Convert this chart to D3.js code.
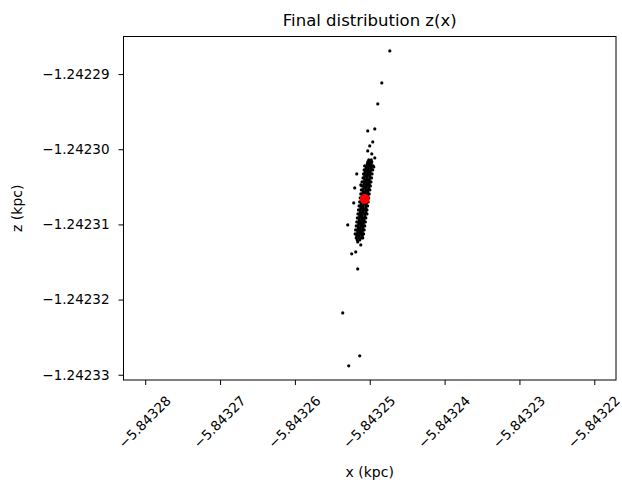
<!DOCTYPE html>
<html>
<head>
<meta charset="utf-8">
<script src="https://cdn.jsdelivr.net/npm/d3@7"></script>
<style>
    body { margin: 0; background: #fff; }
    svg { font-family: "DejaVu Sans", sans-serif; }
</style>
</head>
<body>
<svg id="chart"></svg>
<script>
// final particle positions (kpc)
let xValues = [
    -5.84324732, -5.84324839, -5.84324893, -5.84324933, -5.84325027, -5.84324960, -5.84325000, -5.84325027,
    -5.84324973, -5.84324933, -5.84324987, -5.84325174, -5.84325120, -5.84325201, -5.84325214, -5.84325294,
    -5.84325120, -5.84325187, -5.84325241, -5.84325161, -5.84325361, -5.84325134, -5.84325281, -5.84324946,
    -5.84325094,
    -5.84325013, -5.84324980,
    -5.84325027, -5.84325000, -5.84324973,
    -5.84325033, -5.84325007, -5.84324980,
    -5.84325040, -5.84325013, -5.84324987,
    -5.84325047, -5.84325013, -5.84324980,
    -5.84325054, -5.84325020, -5.84324987,
    -5.84325060, -5.84325027, -5.84324993,
    -5.84325054, -5.84325027, -5.84324993,
    -5.84325067, -5.84325033, -5.84325000,
    -5.84325074, -5.84325040, -5.84325000,
    -5.84325067, -5.84325033, -5.84325007,
    -5.84325080, -5.84325047, -5.84325013,
    -5.84325074, -5.84325040, -5.84325007,
    -5.84325087, -5.84325054, -5.84325020,
    -5.84325080, -5.84325047, -5.84325013,
    -5.84325094, -5.84325054, -5.84325020,
    -5.84325087, -5.84325060, -5.84325027,
    -5.84325100, -5.84325067, -5.84325033,
    -5.84325100, -5.84325060, -5.84325027,
    -5.84325107, -5.84325074, -5.84325033,
    -5.84325107, -5.84325067, -5.84325040,
    -5.84325114, -5.84325080, -5.84325040,
    -5.84325114, -5.84325074, -5.84325047,
    -5.84325120, -5.84325087, -5.84325047,
    -5.84325120, -5.84325087, -5.84325054,
    -5.84325127, -5.84325094, -5.84325060,
    -5.84325127, -5.84325094, -5.84325054,
    -5.84325134, -5.84325100, -5.84325067,
    -5.84325134, -5.84325107, -5.84325067,
    -5.84325140, -5.84325107, -5.84325074,
    -5.84325140, -5.84325107, -5.84325080,
    -5.84325147, -5.84325114, -5.84325080,
    -5.84325147, -5.84325114, -5.84325087,
    -5.84325154, -5.84325120, -5.84325087,
    -5.84325154, -5.84325127, -5.84325094,
    -5.84325161, -5.84325127, -5.84325094,
    -5.84325161, -5.84325134, -5.84325100,
    -5.84325167, -5.84325134, -5.84325107,
    -5.84325174, -5.84325140, -5.84325100,
    -5.84325181, -5.84325147, -5.84325114,
    -5.84325167, -5.84325134,
    -5.84325161,
    // band edges
    -5.84325068, -5.84324955, -5.84325075, -5.84324961, -5.84325083, -5.84324969,
    -5.84325090, -5.84324976, -5.84325104, -5.84324984, -5.84325106, -5.84324992,
    -5.84325112, -5.84324999, -5.84325120, -5.84325007, -5.84325128, -5.84325015,
    -5.84325135, -5.84325021, -5.84325143, -5.84325029, -5.84325151, -5.84325037,
    -5.84325158, -5.84325037, -5.84325166, -5.84325052, -5.84325173, -5.84325059,
    -5.84325181, -5.84325067, -5.84325189, -5.84325075, -5.84325195, -5.84325082
];
let zValues = [
    -1.24228692, -1.24229118, -1.24229397, -1.24229730, -1.24229756, -1.24229903, -1.24229956, -1.24230022,
    -1.24230062, -1.24230116, -1.24230182, -1.24230328, -1.24230475, -1.24230515, -1.24230714, -1.24231007,
    -1.24231273, -1.24231366, -1.24231392, -1.24231592, -1.24232177, -1.24232749, -1.24232882, -1.24230235,
    -1.24231180,
    -1.24230142, -1.24230142,
    -1.24230169, -1.24230169, -1.24230169,
    -1.24230195, -1.24230195, -1.24230195,
    -1.24230222, -1.24230222, -1.24230222,
    -1.24230249, -1.24230249, -1.24230249,
    -1.24230275, -1.24230275, -1.24230275,
    -1.24230302, -1.24230302, -1.24230302,
    -1.24230328, -1.24230328, -1.24230328,
    -1.24230355, -1.24230355, -1.24230355,
    -1.24230382, -1.24230382, -1.24230382,
    -1.24230408, -1.24230408, -1.24230408,
    -1.24230435, -1.24230435, -1.24230435,
    -1.24230461, -1.24230461, -1.24230461,
    -1.24230488, -1.24230488, -1.24230488,
    -1.24230515, -1.24230515, -1.24230515,
    -1.24230541, -1.24230541, -1.24230541,
    -1.24230568, -1.24230568, -1.24230568,
    -1.24230594, -1.24230594, -1.24230594,
    -1.24230621, -1.24230621, -1.24230621,
    -1.24230648, -1.24230648, -1.24230648,
    -1.24230674, -1.24230674, -1.24230674,
    -1.24230701, -1.24230701, -1.24230701,
    -1.24230727, -1.24230727, -1.24230727,
    -1.24230754, -1.24230754, -1.24230754,
    -1.24230781, -1.24230781, -1.24230781,
    -1.24230807, -1.24230807, -1.24230807,
    -1.24230834, -1.24230834, -1.24230834,
    -1.24230860, -1.24230860, -1.24230860,
    -1.24230887, -1.24230887, -1.24230887,
    -1.24230914, -1.24230914, -1.24230914,
    -1.24230940, -1.24230940, -1.24230940,
    -1.24230967, -1.24230967, -1.24230967,
    -1.24230993, -1.24230993, -1.24230993,
    -1.24231020, -1.24231020, -1.24231020,
    -1.24231047, -1.24231047, -1.24231047,
    -1.24231073, -1.24231073, -1.24231073,
    -1.24231100, -1.24231100, -1.24231100,
    -1.24231126, -1.24231126, -1.24231126,
    -1.24231153, -1.24231153, -1.24231153,
    -1.24231180, -1.24231180, -1.24231180,
    -1.24231206, -1.24231206,
    -1.24231233,
    // band edges
    -1.24230222, -1.24230222, -1.24230275, -1.24230275, -1.24230328, -1.24230328,
    -1.24230382, -1.24230382, -1.24230435, -1.24230435, -1.24230488, -1.24230488,
    -1.24230541, -1.24230541, -1.24230594, -1.24230594, -1.24230648, -1.24230648,
    -1.24230701, -1.24230701, -1.24230754, -1.24230754, -1.24230807, -1.24230807,
    -1.24230860, -1.24230860, -1.24230914, -1.24230914, -1.24230967, -1.24230967,
    -1.24231020, -1.24231020, -1.24231073, -1.24231073, -1.24231126, -1.24231126
];
// mean position (red marker)
let centerX = [-5.84325067];
let centerZ = [-1.24230661];

let xTicks = [-5.84328, -5.84327, -5.84326, -5.84325, -5.84324, -5.84323, -5.84322];
let zTicks = [-1.24229, -1.24230, -1.24231, -1.24232, -1.24233];
let xDomain = [-5.8432829, -5.8432171];
let zDomain = [-1.2423307, -1.2422850];

let width = 622, height = 482;
let margin = { top: 36.5, right: 6, bottom: 102, left: 123.5 };

let svg = d3.select('#chart').attr('width', width).attr('height', height);

let x = d3.scaleLinear().domain(xDomain).range([margin.left, width - margin.right]);
let y = d3.scaleLinear().domain(zDomain).range([height - margin.bottom, margin.top]);
let fmt = d3.format('.5f');

let points = xValues.map((d, i) => ({ x: x(d), y: y(zValues[i]) }));

// X axis
let xAxis = svg.append('g')
    .attr('transform', `translate(0, ${height - margin.bottom})`)
    .call(d3.axisBottom(x).tickValues(xTicks).tickFormat(fmt).tickSize(5).tickSizeOuter(0));
xAxis.selectAll('text')
    .attr('y', 0).attr('dy', '0.35em')
    .attr('text-anchor', 'middle')
    .attr('transform', 'translate(-1, 42) rotate(-45)');

// Y axis
let yAxis = svg.append('g')
    .attr('transform', `translate(${margin.left}, 0)`)
    .call(d3.axisLeft(y).tickValues(zTicks).tickFormat(fmt).tickSize(5).tickSizeOuter(0));
yAxis.selectAll('text').attr('x', -14);

svg.selectAll('.tick text').style('font-size', '13.5px').style('fill', '#000').style('font-family', '"DejaVu Sans", sans-serif');
svg.selectAll('.tick line').style('stroke', '#000').style('stroke-width', 1);
svg.selectAll('.domain').remove();

// frame
svg.append('rect')
    .attr('x', margin.left).attr('y', margin.top)
    .attr('width', width - margin.right - margin.left)
    .attr('height', height - margin.bottom - margin.top)
    .style('fill', 'none').style('stroke', '#000').style('stroke-width', 1);

// particles
svg.append('g').selectAll('circle')
    .data(points)
    .enter().append('circle')
    .attr('r', 1.6)
    .attr('cx', d => d.x)
    .attr('cy', d => d.y)
    .style('fill', '#000');

svg.append('g').selectAll('circle')
    .data(centerX.map((d, i) => ({ x: x(d), y: y(centerZ[i]) })))
    .enter().append('circle')
    .attr('r', 5)
    .attr('cx', d => d.x)
    .attr('cy', d => d.y)
    .style('fill', '#ff0000');

// title and labels
let midX = (margin.left + width - margin.right) / 2;
svg.append('text')
    .attr('x', midX).attr('y', 26)
    .attr('text-anchor', 'middle')
    .style('font-size', '16.5px')
    .text('Final distribution z(x)');

svg.append('text')
    .attr('x', midX).attr('y', 477)
    .attr('text-anchor', 'middle')
    .style('font-size', '14px')
    .text('x (kpc)');

svg.append('text')
    .attr('transform', `translate(22, ${(margin.top + height - margin.bottom) / 2}) rotate(-90)`)
    .attr('text-anchor', 'middle')
    .style('font-size', '14px')
    .text('z (kpc)');
</script>
</body>
</html>
